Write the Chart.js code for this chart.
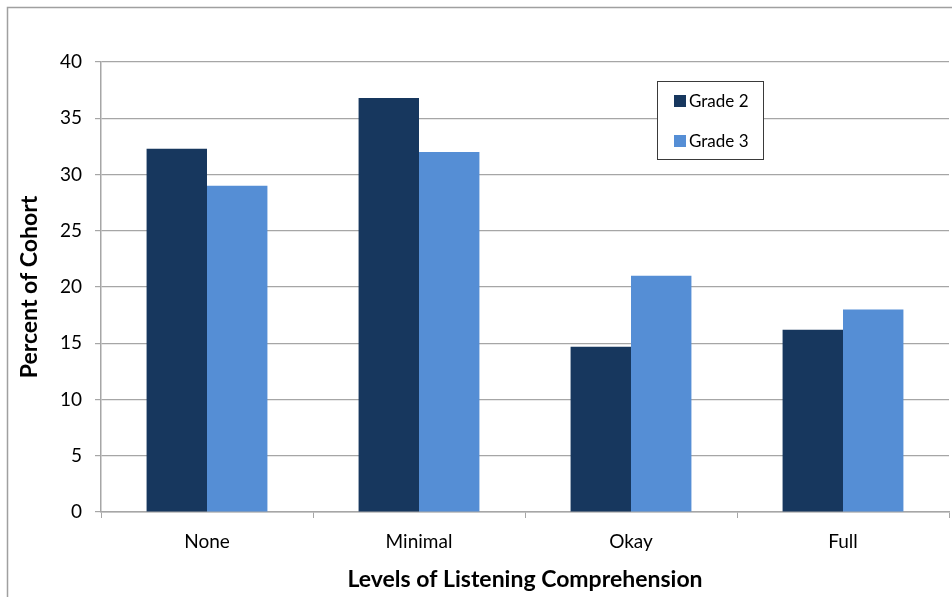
<!DOCTYPE html>
<html>
<head>
<meta charset="utf-8">
<script src="https://cdn.jsdelivr.net/npm/chart.js@4.4.1/dist/chart.umd.min.js"></script>
<style>
  html, body { margin: 0; padding: 0; background: #ffffff; }
  #wrap { width: 952px; height: 597px; position: relative; }
</style>
</head>
<body>
<div id="wrap"><canvas id="chart" width="952" height="597"></canvas></div>
<script>
// Listening comprehension levels by grade cohort
const categories = ['None', 'Minimal', 'Okay', 'Full'];
const grade2 = [32.3, 36.8, 14.7, 16.2];
const grade3 = [29.0, 32.0, 21.0, 18.0];
const seriesLabels = ['Grade 2', 'Grade 3'];
const seriesColors = ['#17375E', '#558ED5'];
const yTicks = [0, 5, 10, 15, 20, 25, 30, 35, 40];

const FONT = 'Lato, "Open Sans", sans-serif';
const GRID = '#a6a6a6';

// Outer frame of the chart object
const framePlugin = {
  id: 'frame',
  beforeDraw(chart) {
    const ctx = chart.ctx;
    ctx.save();
    ctx.strokeStyle = '#a0a0a0';
    ctx.lineWidth = 1.5;
    ctx.beginPath();
    ctx.moveTo(7.5, chart.height + 2);
    ctx.lineTo(7.5, 7.5);
    ctx.lineTo(chart.width + 2, 7.5);
    ctx.stroke();
    ctx.restore();
  }
};

// Boxed legend inside the plot area
const boxLegend = {
  id: 'boxLegend',
  afterDraw(chart) {
    const ctx = chart.ctx;
    const x0 = 657.5, y0 = 81.5, w = 106, h = 78;
    ctx.save();
    ctx.fillStyle = '#ffffff';
    ctx.fillRect(x0, y0, w, h);
    ctx.strokeStyle = '#3a3a3a';
    ctx.lineWidth = 1;
    ctx.strokeRect(x0, y0, w, h);
    ctx.font = '17px ' + FONT;
    ctx.textBaseline = 'middle';
    chart.data.datasets.forEach((ds, i) => {
      const cy = 101 + i * 40;
      ctx.fillStyle = ds.backgroundColor;
      ctx.fillRect(674, cy - 6, 12, 12);
      ctx.fillStyle = '#000000';
      ctx.fillText(ds.label, 689, cy + 1);
    });
    ctx.restore();
  }
};

new Chart(document.getElementById('chart'), {
  type: 'bar',
  data: {
    labels: categories,
    datasets: [
      { label: seriesLabels[0], data: grade2, backgroundColor: seriesColors[0] },
      { label: seriesLabels[1], data: grade3, backgroundColor: seriesColors[1] }
    ]
  },
  options: {
    responsive: false,
    animation: false,
    devicePixelRatio: 1,
    layout: { padding: { left: 0, top: 62, right: 3, bottom: 0 } },
    datasets: { bar: { categoryPercentage: 0.57, barPercentage: 1.0 } },
    plugins: {
      legend: { display: false },
      tooltip: { enabled: false }
    },
    scales: {
      x: {
        grid: { offset: true, drawOnChartArea: false, drawTicks: true, tickLength: 6, color: GRID },
        border: { color: GRID, width: 1.5 },
        ticks: { color: '#000000', font: { family: FONT, size: 19 }, padding: 12 },
        title: {
          display: true, text: 'Levels of Listening Comprehension', color: '#000000',
          font: { family: FONT, size: 23, weight: 'bold' }, padding: { top: 0, bottom: 4 }
        },
        afterFit(scale) { scale.height = 85; }
      },
      y: {
        min: 0, max: 40,
        afterBuildTicks(scale) { scale.ticks = yTicks.map(v => ({ value: v })); },
        grid: { color: GRID, lineWidth: 1.2, tickLength: 6 },
        border: { color: GRID, width: 1.5 },
        ticks: { color: '#000000', font: { family: FONT, size: 19 }, padding: 13 },
        title: {
          display: true, text: 'Percent of Cohort', color: '#000000',
          font: { family: FONT, size: 23, weight: 'bold' }, padding: { top: 16, bottom: 0 }
        },
        afterFit(scale) { scale.width = 101; }
      }
    }
  },
  plugins: [framePlugin, boxLegend]
});
</script>
</body>
</html>
